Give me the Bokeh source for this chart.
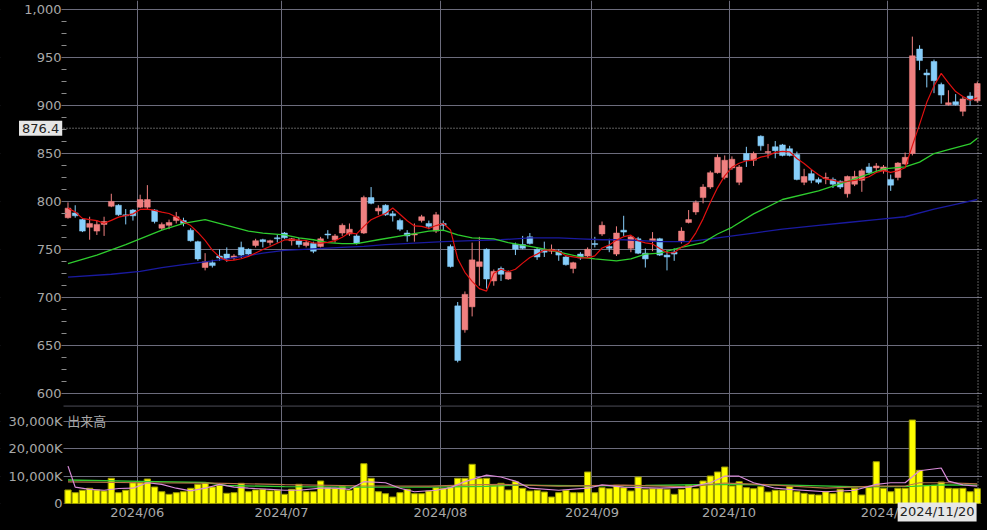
from bokeh.plotting import figure
from bokeh.layouts import column
from bokeh.models import ColumnDataSource, Range1d, FixedTicker, Span, Label, NumeralTickFormatter, BoxAnnotation
from bokeh.embed import file_html
from bokeh.resources import INLINE

# ---------------- data (trading-day index 0 = 2024/05/20 ... 126 = 2024/11/20) -------------
open_ = [783,788,781,773,769,776,795,796,786,791,
         794,794,791,772,775,780,780,770,758,731,
         736,743,745,741,752,750,754,760,757,762,
         767,759,759,754,756,753,766,760,767,766,
         764,767,804,790,796,787,780,767,765,780,
         777,769,777,753,691,666,690,732,750,717,
         730,719,755,755,763,750,749,748,748,742,
         730,745,743,756,766,753,745,770,751,761,
         746,759,761,744,747,759,778,789,804,815,
         830,825,835,820,850,843,868,851,857,859,
         855,849,820,829,823,824,823,821,808,818,
         822,836,835,832,823,825,839,850,959,934,
         946,922,901,904,894,910,905]
high = [799,796,782,784,780,784,808,797,792,792,
        807,817,792,778,781,789,783,772,759,746,
        739,750,752,745,758,751,761,761,760,765,
        768,762,762,759,758,763,770,766,777,777,
        766,806,815,796,797,790,782,770,777,786,
        780,789,780,755,695,706,757,763,751,729,
        732,728,757,764,767,752,758,755,750,743,
        737,747,752,763,779,761,774,785,764,763,
        751,768,762,749,751,773,791,801,818,832,
        849,848,847,838,857,852,869,860,863,860,
        858,852,834,833,825,830,825,822,827,832,
        834,840,840,838,828,841,851,972,963,938,
        948,924,916,912,909,914,925]
low = [782,783,768,760,765,764,794,785,776,780,
       793,792,777,770,771,777,774,758,738,728,
       731,738,737,739,741,744,752,752,754,757,
       761,754,752,752,746,752,761,757,764,764,
       755,766,797,786,785,779,769,758,758,778,
       771,767,769,731,632,663,680,712,709,712,
       717,718,744,750,755,739,742,745,738,733,
       725,739,741,752,764,747,743,764,747,745,
       731,748,743,728,738,756,777,786,798,813,
       829,823,833,817,836,837,853,845,845,847,
       847,822,817,819,818,818,814,813,804,816,
       810,828,831,829,811,822,838,848,937,919,
       913,902,900,900,889,900,903]
close = [793,785,769,777,776,779,800,786,785,785,
         802,802,779,776,778,784,777,759,740,737,
         733,741,740,743,744,745,759,758,759,761,
         762,761,755,757,748,761,765,764,775,771,
         756,804,798,793,786,785,771,764,766,784,
         774,786,775,732,634,703,739,737,719,727,
         724,726,750,751,756,742,747,750,744,734,
         736,741,750,755,775,751,767,768,763,746,
         740,761,744,742,745,769,781,799,815,830,
         846,843,844,836,843,850,858,852,853,848,
         848,823,826,822,820,825,818,815,826,826,
         832,830,837,836,817,840,846,952,947,932,
         926,911,903,901,907,906,923]
volume_k = [4950,3960,4840,5570,4950,4580,9230,3960,4840,7620,
            7620,8970,6040,4320,3370,3960,4320,5570,7030,7620,
            6040,6670,3740,3960,7400,4320,4950,5200,4580,4840,
            3370,5200,7030,4320,4320,8240,5790,5570,6150,4840,
            6040,14580,9230,4320,3590,2380,3960,5200,3590,3590,
            4580,5790,5570,6040,9230,9230,14360,9090,9230,6700,
            7400,4950,7990,5570,4580,4840,4210,2380,3960,4840,
            3960,3960,11540,3960,5790,5420,6670,5790,4580,9710,
            5200,5420,5420,5200,3370,5200,6670,5420,8240,10070,
            11540,13370,6410,7990,5790,5420,6150,4210,4840,4840,
            6150,4320,3740,3370,3110,4320,3590,5200,3960,5570,
            3110,5790,15310,5570,4320,5570,5570,30590,12160,6670,
            6670,7880,5570,5420,5570,4320,5420]

# moving-average lines (index, value)
ma25_idx = [0,4,8,13,16,19,22,25,27,30,32,34,36,38,40,43,47,50,52,54,56,59,61,64,67,71,73,76,78,80,82,85,88,90,92,95,99,104,108,113,116,118,120,122,125,126]
ma25_val = [735,744,755,770,777,781,775,769,767,765,762,760,757,756,756,760,765,769,770,765,762,761,757,753,749,742,740,738,740,745,746,752,757,766,773,787,802,811,821,834,836,841,850,854,860,866]
ma75_idx = [0,6,10,13,16,19,22,27,30,34,38,41,44,48,52,56,60,64,68,71,74,77,82,86,90,95,99,104,108,112,116,120,123,126]
ma75_val = [721,724,727,731,734,737,740,746,749,750.5,752,753,755,756.5,758,759,760,762,762,761,760,760,758,758,762,767,771,775,778,781,784,792,797,802]

vma5_idx = [0,1,3,5,7,9,11,13,15,17,19,21,23,25,28,30,32,35,37,39,41,44,46,48,51,53,55,58,60,62,64,68,72,74,77,82,86,89,91,93,95,98,100,105,109,112,114,116,118,121,122,124,126]
vma5_val = [13700,6000,5200,4850,5500,5600,7600,7000,5600,4600,5600,7000,6000,5600,5200,4850,4850,5600,5600,5200,8000,7600,5600,4300,4850,5800,8000,10400,9700,8200,5600,4850,5600,6800,6000,5600,6000,7600,10000,10000,7600,5600,5200,4300,4850,7000,7600,7600,12000,13000,8200,6800,6400]
vma25_idx = [0,10,20,30,40,50,56,60,68,77,86,91,96,105,112,116,118,122,126]
vma25_val = [7900,7600,7500,6900,6500,6400,6800,7000,6400,6700,6100,7500,7000,5600,6400,6400,7600,7600,7200]
vma75_idx = [0,10,19,22,30,40,50,58,62,70,80,90,100,110,117,121,126]
vma75_val = [8600,8100,7700,6600,6200,6000,6000,6300,6700,6500,6600,7000,6700,6100,6300,6800,6700]

month_labels = ["2024/06", "2024/07", "2024/08", "2024/09", "2024/10", "2024/11"]
month_start_idx = [10, 30, 52, 73, 92, 114]
price_ticks = [600, 650, 700, 750, 800, 850, 900, 950, 1000]
volume_ticks = [0, 10000, 20000, 30000]
volume_tick_labels = ["0", "10,000K", "20,000K", "30,000K"]
cursor_price = 876.4
cursor_date = "2024/11/20"
cursor_idx = 126

# ---------------- styling -------------
BG = "#000000"
GRID = "#6c6c7c"
LBL = "#a8a8a8"
UP = "#f08080"
DOWN = "#87cefa"
CROSS = "#bbbbbb"
FONT = "DejaVu Sans"

n = len(close)
xs = list(range(n))
col = [UP if c >= o else DOWN for o, c in zip(open_, close)]
top = [max(o, c) for o, c in zip(open_, close)]
bot = [min(o, c) for o, c in zip(open_, close)]
bot = [b if t - b >= 0.8 else t - 0.8 for t, b in zip(top, bot)]
src = ColumnDataSource(dict(x=xs, high=high, low=low, top=top, bot=bot, color=col, vol=volume_k))

# 5-day moving average of the close
ma5 = []
for i in range(n):
    w = close[max(0, i - 4): i + 1]
    ma5.append(sum(w) / len(w))

W = 982
AX_X = -0.62          # x position (index units) of the left edge of the plotting area
X_END = 126.72
xr = Range1d(-9.353, X_END)
month_ticks = [m - 0.4 for m in month_start_idx]
cross_x = cursor_idx + 0.1


def base_fig(height, yr):
    f = figure(width=W, height=height, x_range=xr, y_range=yr,
               output_backend="svg", toolbar_location=None,
               min_border=0, min_border_left=0, min_border_right=0,
               min_border_top=0, min_border_bottom=0,
               background_fill_color=BG, border_fill_color=BG, outline_line_color=None)
    return f


# ---------------- price panel -------------
PY0, PY1 = 587, 1009.7
p = base_fig(405, Range1d(PY0, PY1))
p.xaxis.visible = False
p.xgrid.ticker = FixedTicker(ticks=month_ticks)
p.xgrid.grid_line_color = GRID
minor = [587.5 + 12.5 * k for k in range(0, 34) if (587.5 + 12.5 * k) % 50 != 0]
ya = p.yaxis[0]
ya.fixed_location = AX_X
ya.ticker = FixedTicker(ticks=price_ticks, minor_ticks=minor)
p.ygrid.ticker = FixedTicker(ticks=price_ticks)
p.ygrid.grid_line_color = GRID
ya.formatter = NumeralTickFormatter(format="0,0")
ya.axis_line_color = None
ya.major_tick_line_color = GRID
ya.major_tick_in = 3
ya.major_tick_out = 2
ya.minor_tick_line_color = "#8a8a8a"
ya.minor_tick_in = 3
ya.minor_tick_out = 2
ya.major_label_text_color = LBL
ya.major_label_text_font = FONT
ya.major_label_text_font_size = "13px"
ya.major_label_standoff = 0
# black margin to the left of the plotting area (hides grid there)
p.add_layout(BoxAnnotation(left=-20, right=AX_X, fill_color=BG, fill_alpha=1.0,
                           line_color=None, level="underlay"))

p.segment(x0="x", y0="low", x1="x", y1="high", color="color", line_width=1, source=src)
p.vbar(x="x", top="top", bottom="bot", width=0.8, fill_color="color", line_color="color", line_width=0.5, source=src)

p.line(ma75_idx, ma75_val, line_color="#1a1aa0", line_width=1.3)
p.line(ma25_idx, ma25_val, line_color="#2ecc2e", line_width=1.3)
p.line(xs, ma5, line_color="#e01010", line_width=1.2)

# crosshair
p.segment(x0=[AX_X], y0=[cursor_price], x1=[X_END], y1=[cursor_price], line_color=CROSS, line_dash="1 2", line_width=1)
p.segment(x0=[cross_x], y0=[PY0], x1=[cross_x], y1=[PY1], line_color=CROSS, line_dash="1 2", line_width=1)
p.add_layout(Label(x=-0.8, y=cursor_price, text="876.4",
                   text_align="right", text_baseline="middle",
                   text_color="#222222", text_font=FONT, text_font_size="13px",
                   background_fill_color="#e6e6e6", padding=3))

# ---------------- volume panel -------------
VY1 = 35900
v = base_fig(123, Range1d(-9158, VY1))
xa = v.xaxis[0]
xa.fixed_location = 0
xa.ticker = FixedTicker(ticks=month_ticks)
xa.major_label_overrides = {t: l for t, l in zip(month_ticks, month_labels)}
xa.axis_line_color = None
xa.major_tick_line_color = None
xa.minor_tick_line_color = None
xa.major_tick_in = 0
xa.major_tick_out = 0
xa.minor_tick_in = 0
xa.minor_tick_out = 0
xa.major_label_text_color = LBL
xa.major_label_text_font = FONT
xa.major_label_text_font_size = "13px"
xa.major_label_standoff = 1
v.xgrid.grid_line_color = GRID
yv = v.yaxis[0]
yv.fixed_location = AX_X
yv.ticker = FixedTicker(ticks=volume_ticks)
yv.major_label_overrides = {t: l for t, l in zip(volume_ticks, volume_tick_labels)}
yv.axis_line_color = None
yv.major_tick_line_color = None
yv.minor_tick_line_color = None
yv.major_tick_in = 0
yv.major_tick_out = 0
yv.minor_tick_in = 0
yv.minor_tick_out = 0
yv.major_label_text_color = LBL
yv.major_label_text_font = FONT
yv.major_label_text_font_size = "13px"
yv.major_label_standoff = 1
v.ygrid.grid_line_color = GRID
v.add_layout(BoxAnnotation(left=-20, right=AX_X, fill_color=BG, fill_alpha=1.0,
                           line_color=None, level="underlay"))
v.add_layout(BoxAnnotation(bottom=-20000, top=0, fill_color=BG, fill_alpha=1.0,
                           line_color=None, level="underlay"))

v.vbar(x="x", top="vol", bottom=0, width=0.86, fill_color="#ffff00", line_color="#9a9a00", line_width=1, source=src)
v.line(vma75_idx, vma75_val, line_color="#33cc33", line_width=1.3)
v.line(vma25_idx, vma25_val, line_color="#b8734a", line_width=1.2)
v.line(vma5_idx, vma5_val, line_color="#d88ad8", line_width=1.2)

# panel separator and crosshair
v.segment(x0=[AX_X], y0=[35750], x1=[X_END], y1=[35750], line_color=GRID, line_width=1)
v.segment(x0=[cross_x], y0=[0], x1=[cross_x], y1=[VY1], line_color=CROSS, line_dash="1 2", line_width=1)
v.add_layout(Label(x=-0.12, y=30500, text="出来高", text_align="left", text_baseline="middle",
                   text_color=LBL, text_font="Noto Sans CJK JP", text_font_size="13px"))
v.add_layout(Label(x=125.9, y=-3113, text=cursor_date,
                   text_align="right", text_baseline="middle",
                   text_color="#222222", text_font=FONT, text_font_size="13px",
                   background_fill_color="#e6e6e6", padding=2))

layout = column(p, v, spacing=0)
html = file_html(layout, INLINE, title="chart")
html = html.replace("</head>", "<style>html,body{background:#000000;}</style></head>", 1)
open("out.html", "w").write(html)
